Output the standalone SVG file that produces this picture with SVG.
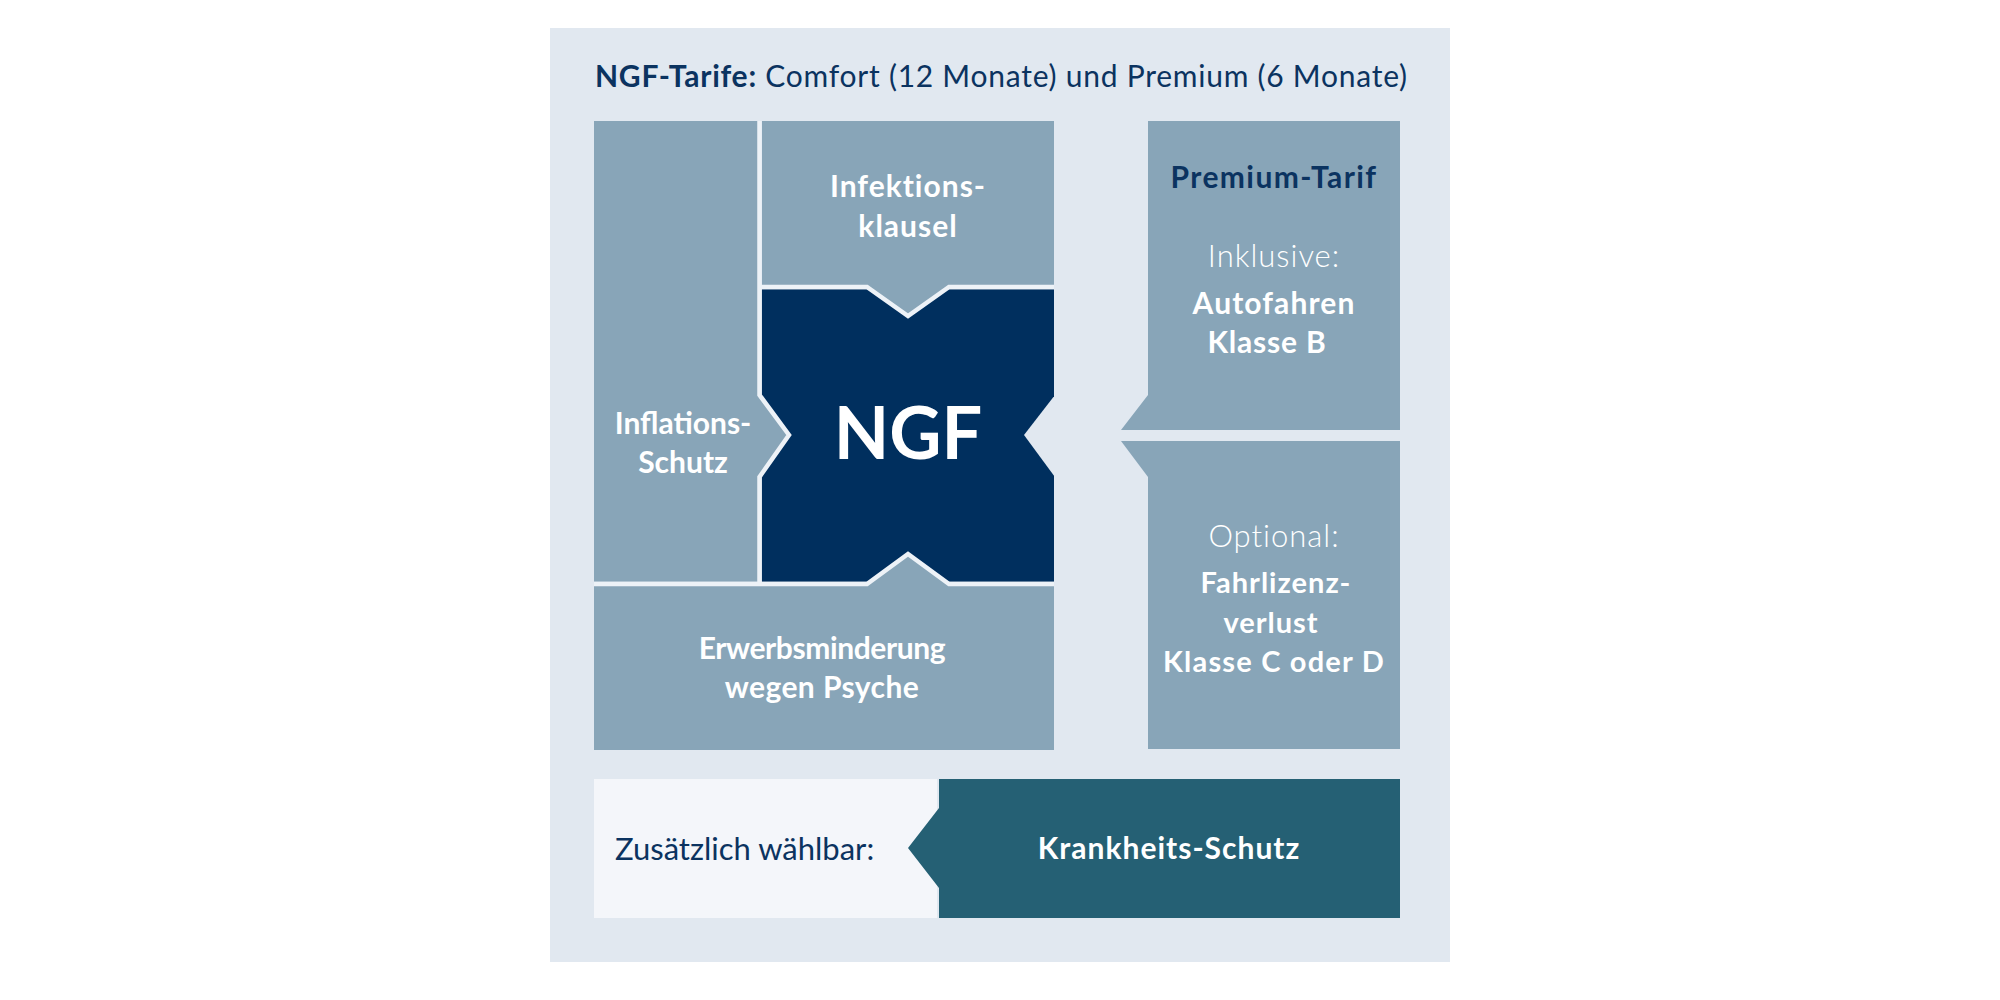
<svg xmlns="http://www.w3.org/2000/svg" width="2000" height="1000" viewBox="0 0 2000 1000">
  <defs>
    <style>
      .t { font-family: Lato, "Noto Sans", "Liberation Sans", sans-serif; }
      .b { font-weight: 700; }
      .l { font-weight: 300; }
      .r { font-weight: 400; }
      .w { fill: #ffffff; }
      .n { fill: #0b3360; }
      .c { text-anchor: middle; }
      .grey { fill: #88a5b8; }
      .gap { stroke: #edf2f7; stroke-width: 4.5; stroke-linejoin: miter; }
    </style>
    <clipPath id="clusterClip">
      <rect x="594" y="121" width="460" height="629"/>
    </clipPath>
  </defs>

  <rect x="0" y="0" width="2000" height="1000" fill="#ffffff"/>
  <rect id="panel" x="550" y="28" width="900" height="934" fill="#e1e8f0"/>

  <text id="title" class="t n r" x="595" y="87" font-size="30" letter-spacing="0.75"><tspan class="b">NGF-Tarife:</tspan> Comfort (12 Monate) und Premium (6 Monate)</text>

  <g id="cluster" clip-path="url(#clusterClip)">
    <g id="node-ngf">
      <rect x="759.5" y="287" width="296.75" height="297" fill="#002f5e" class="gap"/>
    </g>
    <g id="node-infektion">
      <polygon class="grey gap" points="759.5,118.75 1056.25,118.75 1056.25,287 949,287 908,316 867,287 759.5,287"/>
      <text class="t b w c" x="908" y="197" font-size="30" letter-spacing="1">Infektions-</text>
      <text class="t b w c" x="908" y="237" font-size="30" letter-spacing="1">klausel</text>
    </g>
    <g id="node-inflation">
      <polygon class="grey gap" points="591.75,118.75 759.5,118.75 759.5,395 789,435 759.5,477 759.5,584 591.75,584"/>
      <text class="t b w c" x="683" y="434" font-size="30">Inflations-</text>
      <text class="t b w c" x="683" y="473" font-size="30">Schutz</text>
    </g>
    <g id="node-erwerb">
      <polygon class="grey gap" points="591.75,584 867,584 908,554 949,584 1056.25,584 1056.25,752.25 591.75,752.25"/>
      <text class="t b w c" x="822" y="659" font-size="30" letter-spacing="-0.4">Erwerbsminderung</text>
      <text class="t b w c" x="822" y="698" font-size="30" letter-spacing="0.4">wegen Psyche</text>
    </g>
    <polygon id="ngf-notch" points="1055,395 1024,435 1055,477" fill="#e1e8f0"/>
    <text class="t b w c" x="908" y="459" font-size="72">NGF</text>
  </g>

  <g id="node-premium">
    <polygon class="grey" points="1148,121 1400,121 1400,430 1121,430 1148,395"/>
    <text class="t b c" x="1274" y="188" font-size="30" letter-spacing="1.4" fill="#0b3360">Premium-Tarif</text>
    <text class="t l w c" x="1274" y="267" font-size="31" letter-spacing="1">Inklusive:</text>
    <text class="t b w c" x="1274" y="314" font-size="30" letter-spacing="1.1">Autofahren</text>
    <text class="t b w c" x="1267" y="353" font-size="30" letter-spacing="0.8">Klasse B</text>
  </g>

  <g id="node-optional">
    <polygon class="grey" points="1121,441 1400,441 1400,749 1148,749 1148,477"/>
    <text class="t l w c" x="1274" y="547" font-size="31" letter-spacing="1">Optional:</text>
    <text class="t b w c" x="1276" y="593" font-size="29" letter-spacing="1">Fahrlizenz-</text>
    <text class="t b w c" x="1271" y="633" font-size="29" letter-spacing="1">verlust</text>
    <text class="t b w c" x="1274" y="672" font-size="29" letter-spacing="1.2">Klasse C oder D</text>
  </g>

  <g id="node-zusaetzlich">
    <rect x="594" y="779" width="343" height="139" fill="#f4f6fa"/>
    <text class="t r n" x="615" y="860" font-size="31">Zusätzlich wählbar:</text>
  </g>

  <g id="node-krankheit">
    <polygon points="939,779 1400,779 1400,918 939,918 939,888 908,848 939,808" fill="#256074"/>
    <text class="t b w c" x="1169" y="859" font-size="30" letter-spacing="1">Krankheits-Schutz</text>
  </g>

  <g id="connectors"></g>
</svg>
